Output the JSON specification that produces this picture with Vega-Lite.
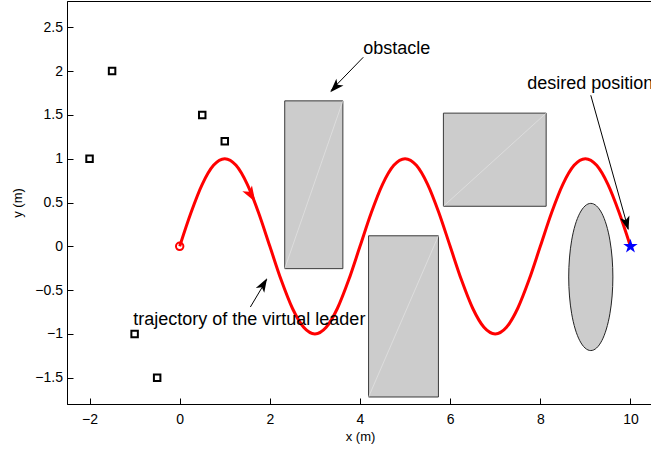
{
  "$schema": "https://vega.github.io/schema/vega-lite/v6.json",
  "width": 586,
  "height": 403,
  "autosize": {"type": "none"},
  "padding": {"left": 67, "top": 1, "right": 0, "bottom": 48},
  "background": "white",
  "config": {
    "view": {"stroke": "black", "strokeWidth": 1},
    "font": "Liberation Sans",
    "axis": {
      "grid": false,
      "domainColor": "black",
      "domainWidth": 1,
      "tickColor": "black",
      "tickWidth": 1,
      "tickSize": -6,
      "labelColor": "black",
      "labelFont": "Liberation Sans",
      "labelFontSize": 14,
      "titleFont": "Liberation Sans",
      "titleFontSize": 13,
      "titleFontWeight": "normal",
      "titleColor": "black"
    }
  },
  "datasets": {
    "trajectory": [
      {"x": 0, "y": 0}, {"x": 0.25, "y": 0.383}, {"x": 0.5, "y": 0.707}, {"x": 0.75, "y": 0.924},
      {"x": 1, "y": 1}, {"x": 1.25, "y": 0.924}, {"x": 1.5, "y": 0.707}, {"x": 1.75, "y": 0.383},
      {"x": 2, "y": 0}, {"x": 2.25, "y": -0.383}, {"x": 2.5, "y": -0.707}, {"x": 2.75, "y": -0.924},
      {"x": 3, "y": -1}, {"x": 3.25, "y": -0.924}, {"x": 3.5, "y": -0.707}, {"x": 3.75, "y": -0.383},
      {"x": 4, "y": 0}, {"x": 4.25, "y": 0.383}, {"x": 4.5, "y": 0.707}, {"x": 4.75, "y": 0.924},
      {"x": 5, "y": 1}, {"x": 5.25, "y": 0.924}, {"x": 5.5, "y": 0.707}, {"x": 5.75, "y": 0.383},
      {"x": 6, "y": 0}, {"x": 6.25, "y": -0.383}, {"x": 6.5, "y": -0.707}, {"x": 6.75, "y": -0.924},
      {"x": 7, "y": -1}, {"x": 7.25, "y": -0.924}, {"x": 7.5, "y": -0.707}, {"x": 7.75, "y": -0.383},
      {"x": 8, "y": 0}, {"x": 8.25, "y": 0.383}, {"x": 8.5, "y": 0.707}, {"x": 8.75, "y": 0.924},
      {"x": 9, "y": 1}, {"x": 9.25, "y": 0.924}, {"x": 9.5, "y": 0.707}, {"x": 9.75, "y": 0.383},
      {"x": 10, "y": 0}
    ],
    "robots": [
      {"x": -2, "y": 1}, {"x": -1.5, "y": 2}, {"x": 0.5, "y": 1.5},
      {"x": 1, "y": 1.2}, {"x": -1, "y": -1}, {"x": -0.5, "y": -1.5}
    ],
    "rects": [
      {"x": 2.33, "x2": 3.62, "y": -0.255, "y2": 1.66},
      {"x": 4.19, "x2": 5.74, "y": -1.72, "y2": 0.12},
      {"x": 5.85, "x2": 8.13, "y": 0.457, "y2": 1.52}
    ],
    "ellipse": [
      {"i": 0, "x": 9.61, "y": -0.35}, {"i": 1, "x": 9.593, "y": -0.133},
      {"i": 2, "x": 9.544, "y": 0.07}, {"i": 3, "x": 9.466, "y": 0.244},
      {"i": 4, "x": 9.365, "y": 0.377}, {"i": 5, "x": 9.247, "y": 0.461},
      {"i": 6, "x": 9.12, "y": 0.49}, {"i": 7, "x": 8.993, "y": 0.461},
      {"i": 8, "x": 8.875, "y": 0.377}, {"i": 9, "x": 8.774, "y": 0.244},
      {"i": 10, "x": 8.696, "y": 0.07}, {"i": 11, "x": 8.647, "y": -0.133},
      {"i": 12, "x": 8.63, "y": -0.35}, {"i": 13, "x": 8.647, "y": -0.567},
      {"i": 14, "x": 8.696, "y": -0.77}, {"i": 15, "x": 8.774, "y": -0.944},
      {"i": 16, "x": 8.875, "y": -1.077}, {"i": 17, "x": 8.993, "y": -1.161},
      {"i": 18, "x": 9.12, "y": -1.19}, {"i": 19, "x": 9.247, "y": -1.161},
      {"i": 20, "x": 9.365, "y": -1.077}, {"i": 21, "x": 9.466, "y": -0.944},
      {"i": 22, "x": 9.544, "y": -0.77}, {"i": 23, "x": 9.593, "y": -0.567}
    ],
    "arrows": [
      {"x": 4.073, "y": 2.158, "x2": 3.36, "y2": 1.78},
      {"x": 9.12, "y": 1.724, "x2": 9.95, "y2": 0.2},
      {"x": 1.568, "y": -0.693, "x2": 1.93, "y2": -0.38}
    ],
    "labels": [
      {"x": 4.07, "y": 2.19, "label": "obstacle"},
      {"x": 7.71, "y": 1.79, "label": "desired position"},
      {"x": -1.03, "y": -0.9, "label": "trajectory of the virtual leader"}
    ],
    "xticks": [{"v": -2}, {"v": 0}, {"v": 2}, {"v": 4}, {"v": 6}, {"v": 8}, {"v": 10}],
    "yticks": [{"v": -1.5}, {"v": -1}, {"v": -0.5}, {"v": 0}, {"v": 0.5}, {"v": 1}, {"v": 1.5}, {"v": 2}, {"v": 2.5}]
  },
  "encoding": {
    "x": {"field": "x", "type": "quantitative", "scale": {"domain": [-2.5, 10.5], "nice": false, "zero": false},
          "axis": {"orient": "bottom", "values": [-2, 0, 2, 4, 6, 8, 10], "format": "~f", "labelPadding": 14, "title": "x (m)", "titlePadding": 4}},
    "y": {"field": "y", "type": "quantitative", "scale": {"domain": [-1.8, 2.8], "nice": false, "zero": false},
          "axis": {"orient": "left", "values": [-1.5, -1, -0.5, 0, 0.5, 1, 1.5, 2, 2.5], "format": "~f", "labelPadding": 10.5, "title": "y (m)", "titlePadding": 10}}
  },
  "layer": [
    {
      "data": {"name": "rects"},
      "mark": {"type": "rect", "fill": "#cccccc", "stroke": "#3a3a3a", "strokeWidth": 1},
      "encoding": {"x2": {"field": "x2"}, "y2": {"field": "y2"}}
    },
    {
      "data": {"name": "rects"},
      "mark": {"type": "rule", "color": "#e4e4e4", "strokeWidth": 0.7},
      "encoding": {"x2": {"field": "x2"}, "y2": {"field": "y2"}}
    },
    {
      "data": {"name": "ellipse"},
      "mark": {"type": "line", "interpolate": "cardinal-closed", "fill": "#cccccc", "stroke": "#222222", "strokeWidth": 1},
      "encoding": {"order": {"field": "i", "type": "quantitative"}}
    },
    {
      "data": {"name": "xticks"},
      "mark": {"type": "rule", "color": "black", "strokeWidth": 1},
      "encoding": {"x": {"field": "v", "type": "quantitative"}, "y": {"datum": 2.8}, "y2": {"datum": 2.731}}
    },
    {
      "data": {"name": "yticks"},
      "mark": {"type": "rule", "color": "black", "strokeWidth": 1},
      "encoding": {"y": {"field": "v", "type": "quantitative"}, "x": {"datum": 10.5}, "x2": {"datum": 10.367}}
    },
    {
      "data": {"name": "trajectory"},
      "mark": {"type": "line", "interpolate": "monotone", "color": "#ff0000", "strokeWidth": 3},
      "encoding": {}
    },
    {
      "data": {"values": [{"x": 0, "y": 0}]},
      "mark": {"type": "point", "shape": "circle", "filled": false, "color": "#ff0000", "strokeWidth": 2, "size": 55, "opacity": 1},
      "encoding": {}
    },
    {
      "data": {"values": [{"x": 1.588, "y": 0.584}]},
      "mark": {"type": "point", "shape": "M1,0L-1,-0.7L-0.5,0L-1,0.7Z", "filled": true, "color": "#ff0000", "size": 256, "angle": 59, "opacity": 1},
      "encoding": {}
    },
    {
      "data": {"name": "robots"},
      "mark": {"type": "point", "shape": "square", "filled": false, "color": "black", "strokeWidth": 2, "size": 42, "opacity": 1},
      "encoding": {}
    },
    {
      "data": {"values": [{"x": 10, "y": 0}]},
      "mark": {"type": "point", "shape": "M0,-1L0.2245,-0.309L0.951,-0.309L0.3633,0.118L0.588,0.809L0,0.382L-0.588,0.809L-0.3633,0.118L-0.951,-0.309L-0.2245,-0.309Z", "filled": true, "color": "#0000ff", "size": 230, "opacity": 1},
      "encoding": {}
    },
    {
      "data": {"name": "arrows"},
      "mark": {"type": "rule", "color": "black", "strokeWidth": 1},
      "encoding": {"x2": {"field": "x2"}, "y2": {"field": "y2"}}
    },
    {
      "data": {"values": [{"x": 3.448, "y": 1.816}]},
      "mark": {"type": "point", "shape": "M1,0L-1,-0.7L-0.5,0L-1,0.7Z", "filled": true, "color": "black", "size": 196, "angle": 133.3, "opacity": 1},
      "encoding": {}
    },
    {
      "data": {"values": [{"x": 9.914, "y": 0.259}]},
      "mark": {"type": "point", "shape": "M1,0L-1,-0.7L-0.5,0L-1,0.7Z", "filled": true, "color": "black", "size": 196, "angle": 74.4, "opacity": 1},
      "encoding": {}
    },
    {
      "data": {"values": [{"x": 1.86, "y": -0.434}]},
      "mark": {"type": "point", "shape": "M1,0L-1,-0.7L-0.5,0L-1,0.7Z", "filled": true, "color": "black", "size": 196, "angle": -59.8, "opacity": 1},
      "encoding": {}
    },
    {
      "data": {"name": "labels"},
      "mark": {"type": "text", "align": "left", "baseline": "alphabetic", "fontSize": 18, "font": "Liberation Sans", "color": "black"},
      "encoding": {"text": {"field": "label"}}
    }
  ]
}
